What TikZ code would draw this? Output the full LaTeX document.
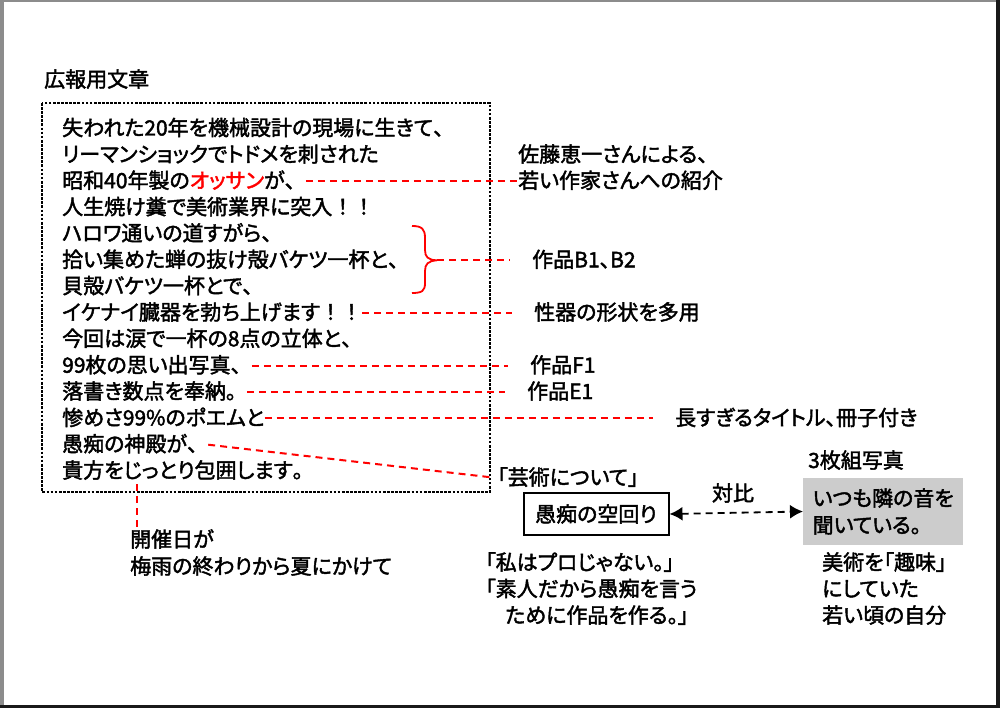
\documentclass[tikz,border=0pt]{standalone}
\usepackage{fontspec}
\usetikzlibrary{arrows.meta}
\newfontfamily\jpfont{Noto Sans CJK JP}[RawFeature=+palt, FakeBold=2]
\newfontfamily\jpfw{Noto Sans CJK JP}[FakeBold=2]
\tikzset{
	jtext/.style={font=\jpfont\fontsize{21}{26}\selectfont, inner sep=0pt, text height=17pt, text depth=3pt, anchor=west},
	reddash/.style={draw=red, line width=2pt, dash pattern=on 7pt off 5pt},
	gapdash/.style={reddash, shorten >=22pt},
}

\begin{document}
\begin{tikzpicture}[x=1pt, y=-1pt]
			%%%%% START %%%%%
			
			\useasboundingbox (0, 0) rectangle (1000, 708);
			\fill[black!45] (0, 0) rectangle (4, 708);
			\fill[black!45] (0, 0) rectangle (1000, 2);
			\fill[black!90] (996, 0) rectangle (1000, 708);
			\fill[black!90] (0, 705) rectangle (1000, 708);
			
			\node[jtext] (title) at (44, 80) {広報用文章};
			\draw[line width=2.7pt, dash pattern=on 2.7pt off 1.4pt] (42, 103) rectangle (490, 492);
			
			\node[jtext] (l1) at (62, 128.5) {失われた20年を機械設計の現場に生きて{\jpfw 、}};
			\node[jtext] (l2) at (62, 154.9) {リーマンショックでトドメを刺された};
			\node[jtext] (l3) at (62, 181.2) {昭和40年製の\textcolor{red}{オッサン}が{\jpfw 、}};
			\node[jtext] (l4) at (62, 207.6) {人生焼け糞で美術業界に突入{\jpfw ！！}};
			\node[jtext] (l5) at (62, 233.9) {ハロワ通いの道すがら{\jpfw 、}};
			\node[jtext] (l6) at (62, 260.3) {拾い集めた蝉の抜け殻バケツ一杯と{\jpfw 、}};
			\node[jtext] (l7) at (62, 286.6) {貝殻バケツ一杯とで{\jpfw 、}};
			\node[jtext] (l8) at (62, 312.9) {イケナイ臓器を勃ち上げます{\jpfw ！！}};
			\node[jtext] (l9) at (62, 339.3) {今回は涙で一杯の8点の立体と{\jpfw 、}};
			\node[jtext] (l10) at (62, 365.7) {99枚の思い出写真{\jpfw 、}};
			\node[jtext] (l11) at (62, 392) {落書き数点を奉納{\jpfw 。}};
			\node[jtext] (l12) at (62, 418.4) {惨めさ99\%のポエムと};
			\node[jtext] (l13) at (62, 444.7) {愚痴の神殿が{\jpfw 、}};
			\node[jtext] (l14) at (62, 471) {貴方をじっとり包囲します{\jpfw 。}};
			
			\draw[red, line width=1.8pt] (412, 226) .. controls (422, 226) and (425, 229) .. (425, 238) -- (425, 250) .. controls (425, 257) and (428, 260) .. (437, 260.3) .. controls (428, 261) and (425, 264) .. (425, 271) -- (425, 283) .. controls (425, 291) and (422, 293) .. (412, 293);
			\coordinate (bracetip) at (437, 260.3);
			
			\node[jtext] (sato1) at (518, 155) {佐藤恵一さんによる{\jpfw 、}};
			\node[jtext] (sato2) at (518, 181.2) {若い作家さんへの紹介};
			\node[jtext] (b12) at (532, 260.3) {作品B1、B2};
			\node[jtext] (seiki) at (534, 312.9) {性器の形状を多用};
			\node[jtext] (f1) at (530, 365.7) {作品F1};
			\node[jtext] (e1) at (527, 392) {作品E1};
			\node[jtext] (title2) at (675, 418.4) {長すぎるタイトル、冊子付き};
			
			\draw[reddash] (l3.east) -- (sato2.west);
			\draw[gapdash] (bracetip) -- (b12.west);
			\draw[gapdash] (l8.east) -- (seiki.west);
			\draw[gapdash] (l10.east) -- (f1.west);
			\draw[gapdash] (l11.east) -- (e1.west);
			\draw[gapdash] (l12.east) -- (title2.west);
			
			\node[jtext] (geijutsu) at (497, 478) {「芸術について」};
			\draw[reddash, shorten >=6pt] (l13.east) -- (geijutsu.west);
			
			\node[jtext] (kaisai1) at (130, 540) {開催日が};
			\node[jtext] (kaisai2) at (130, 567) {梅雨の終わりから夏にかけて};
			\coordinate (kaisaitop) at (137, 484);
			\draw[reddash] (kaisaitop) -- (kaisaitop |- kaisai1.north);
			
			\node[draw, line width=2pt, font=\jpfont\fontsize{21}{26}\selectfont, minimum width=145pt, minimum height=42pt, inner sep=0pt] (kuchi) at (596, 514) {愚痴の空回り};
			\node[fill=black!20, font=\jpfont\fontsize{21}{27}\selectfont, align=left, minimum width=160pt, minimum height=67pt, inner sep=0pt, anchor=west] (photo) at (803, 511.5) {いつも隣の音を\\聞いている{\jpfw 。}};
			\node[jtext] (photocap) at (808, 461) {3枚組写真};
			\node[jtext, anchor=center] (taihi) at (733, 494) {対比};
			\draw[line width=1.8pt, dash pattern=on 7pt off 5pt, {Latex[length=13pt,width=14pt]}-{Latex[length=13pt,width=14pt]}] (kuchi.east) -- (photo.west);
			
			\node[jtext] (puro1) at (485, 563) {「私はプロじゃない。」};
			\node[jtext] (puro2) at (485, 589.5) {「素人だから愚痴を言う};
			\node[jtext] (puro3) at (505, 616) {ために作品を作る。」};
			
			\node[jtext] (shumi1) at (822, 563) {美術を「趣味」};
			\node[jtext] (shumi2) at (822, 589.5) {にしていた};
			\node[jtext] (shumi3) at (822, 616) {若い頃の自分};
			
			%%%%% END %%%%%
\end{tikzpicture}
\end{document}
